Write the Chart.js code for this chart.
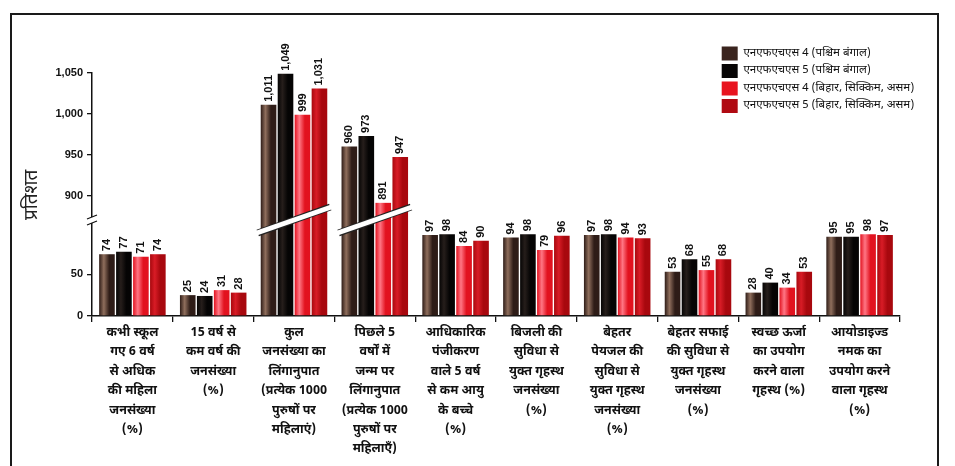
<!DOCTYPE html>
<html>
<head>
<meta charset="utf-8">
<script src="https://cdn.jsdelivr.net/npm/chart.js@4.4.0/dist/chart.umd.min.js"></script>
<style>
html, body { margin: 0; padding: 0; background: #fff; }
#wrap { position: relative; width: 955px; height: 466px; overflow: hidden; }
#frame { position: absolute; left: 10px; top: 13px; width: 925px; height: 470px; border: 2px solid #1a1a1a; border-bottom: none; }
canvas { position: absolute; left: 0; top: 0; }
</style>
</head>
<body>
<div id="wrap"><div id="frame"></div><canvas id="chart" width="955" height="466"></canvas></div>
<script>
const HINDI = '"Noto Sans Devanagari", "Noto Sans", "Lohit Devanagari", sans-serif';
const NUM = '"Liberation Sans", Arial, sans-serif';

const categories = [
  ['कभी स्कूल', 'गए 6 वर्ष', 'से अधिक', 'की महिला', 'जनसंख्या', '(%)'],
  ['15 वर्ष से', 'कम वर्ष की', 'जनसंख्या', '(%)'],
  ['कुल', 'जनसंख्या का', 'लिंगानुपात', '(प्रत्येक 1000', 'पुरुषों पर', 'महिलाएं)'],
  ['पिछले 5', 'वर्षों में', 'जन्म पर', 'लिंगानुपात', '(प्रत्येक 1000', 'पुरुषों पर', 'महिलाएँ)'],
  ['आधिकारिक', 'पंजीकरण', 'वाले 5 वर्ष', 'से कम आयु', 'के बच्चे', '(%)'],
  ['बिजली की', 'सुविधा से', 'युक्त गृहस्थ', 'जनसंख्या', '(%)'],
  ['बेहतर', 'पेयजल की', 'सुविधा से', 'युक्त गृहस्थ', 'जनसंख्या', '(%)'],
  ['बेहतर सफाई', 'की सुविधा से', 'युक्त गृहस्थ', 'जनसंख्या', '(%)'],
  ['स्वच्छ ऊर्जा', 'का उपयोग', 'करने वाला', 'गृहस्थ (%)'],
  ['आयोडाइज्ड', 'नमक का', 'उपयोग करने', 'वाला गृहस्थ', '(%)']
];

const seriesNames = [
  'एनएफएचएस 4 (पश्चिम बंगाल)',
  'एनएफएचएस 5 (पश्चिम बंगाल)',
  'एनएफएचएस 4 (बिहार, सिक्किम, असम)',
  'एनएफएचएस 5 (बिहार, सिक्किम, असम)'
];

const nfhs4WestBengal = [74, 25, 1011, 960, 97, 94, 97, 53, 28, 95];
const nfhs5WestBengal = [77, 24, 1049, 973, 98, 98, 98, 68, 40, 95];
const nfhs4Others = [71, 31, 999, 891, 84, 79, 94, 55, 34, 98];
const nfhs5Others = [74, 28, 1031, 947, 90, 96, 93, 68, 53, 97];

const lowerTicks = [0, 50];
const upperTicks = [900, 950, 1000, 1050];
const lowerMax = 115;
const upperMin = 870;
const upperMax = 1050;

const allSeries = [nfhs4WestBengal, nfhs5WestBengal, nfhs4Others, nfhs5Others];
const flatColors = ['#3a241e', '#070505', '#e8141f', '#b00a12'];
const shades = [
  ['#2e1c17', '#8f6e5c'],
  ['#050404', '#261e1b'],
  ['#e2121f', '#ff7684'],
  ['#a8080e', '#d81c26']
];

const datasets = [];
allSeries.forEach((vals, k) => {
  datasets.push({
    label: seriesNames[k],
    data: vals.map(v => Math.min(v, lowerMax)),
    full: vals,
    part: 'low',
    series: k,
    yAxisID: 'yLow',
    stack: 's' + k,
    backgroundColor: flatColors[k]
  });
});
allSeries.forEach((vals, k) => {
  datasets.push({
    label: seriesNames[k],
    data: vals.map(v => v > lowerMax ? v : null),
    full: vals,
    part: 'up',
    series: k,
    yAxisID: 'yUp',
    stack: 's' + k,
    base: upperMin,
    backgroundColor: flatColors[k]
  });
});

// cylinder-like shading on each bar
const barShading = {
  id: 'barShading',
  beforeDatasetsDraw(chart) {
    const ctx = chart.ctx;
    chart.data.datasets.forEach((ds, i) => {
      chart.getDatasetMeta(i).data.forEach(bar => {
        const l = bar.x - bar.width / 2;
        const g = ctx.createLinearGradient(l, 0, l + bar.width, 0);
        const [d, lt] = shades[ds.series];
        g.addColorStop(0, d);
        g.addColorStop(0.3, lt);
        g.addColorStop(0.65, d);
        g.addColorStop(1, d);
        bar.options = Object.assign({}, bar.options, { backgroundColor: g });
      });
    });
  }
};

// white slashes across the broken bars, break marks on the axis, value labels
const breakAndLabels = {
  id: 'breakAndLabels',
  afterDatasetsDraw(chart) {
    const ctx = chart.ctx;
    const B = chart.scales.yLow.top;
    const axisX = chart.scales.yLow.right;
    ctx.save();
    categories.forEach((c, j) => {
      if (allSeries.every(s => s[j] <= lowerMax)) return;
      const first = chart.getDatasetMeta(0).data[j];
      const last = chart.getDatasetMeta(3).data[j];
      const xl = first.x - first.width / 2 - 3;
      const xr = last.x + last.width / 2 + 3;
      ctx.lineCap = 'butt';
      ctx.strokeStyle = '#222';
      ctx.lineWidth = 7;
      ctx.beginPath(); ctx.moveTo(xl, B + 13); ctx.lineTo(xr, B - 13); ctx.stroke();
      ctx.strokeStyle = '#fff';
      ctx.lineWidth = 5;
      ctx.beginPath(); ctx.moveTo(xl - 1, B + 13); ctx.lineTo(xr + 1, B - 13); ctx.stroke();
    });
    // axis break
    ctx.fillStyle = '#fff';
    ctx.fillRect(axisX - 4, B - 3, 8, 6);
    ctx.strokeStyle = '#111';
    ctx.lineWidth = 1.3;
    ctx.beginPath();
    ctx.moveTo(axisX - 5, B - 1); ctx.lineTo(axisX + 5, B - 5);
    ctx.moveTo(axisX - 5, B + 5); ctx.lineTo(axisX + 5, B + 1);
    ctx.stroke();

    ctx.font = 'bold 11px ' + NUM;
    ctx.fillStyle = '#111';
    ctx.textAlign = 'left';
    ctx.textBaseline = 'middle';
    chart.data.datasets.forEach((ds, i) => {
      chart.getDatasetMeta(i).data.forEach((bar, j) => {
        const v = ds.full[j];
        if (ds.part === 'low' && v > lowerMax) return;
        if (ds.part === 'up' && ds.data[j] === null) return;
        ctx.save();
        ctx.translate(bar.x, bar.y - 3);
        ctx.rotate(-Math.PI / 2);
        ctx.fillText(v.toLocaleString('en-US'), 0, 0);
        ctx.restore();
      });
    });
    ctx.restore();
  }
};

const legendPlace = {
  id: 'legendPlace',
  afterLayout(chart) {
    const lg = chart.legend;
    const a = chart.chartArea;
    lg.left = a.left + (a.right - a.left) * 0.775;
    lg.right = lg.left + lg.width;
    lg.top = a.top - 30;
    lg.bottom = lg.top + lg.height;
  }
};

const setTicks = list => scale => { scale.ticks = list.map(v => ({ value: v })); };

new Chart(document.getElementById('chart').getContext('2d'), {
  type: 'bar',
  data: { labels: categories, datasets: datasets },
  options: {
    responsive: false,
    animation: false,
    categoryPercentage: 0.84,
    barPercentage: 0.92,
    layout: { padding: { left: 0, right: 55, top: 73, bottom: 0 } },
    scales: {
      x: {
        grid: { display: true, drawOnChartArea: false, tickLength: 6, tickColor: '#111', lineWidth: 1.3 },
        border: { color: '#111', width: 1.5 },
        ticks: { autoSkip: false, maxRotation: 0, padding: 2, color: '#111',
          font: { family: HINDI, size: 12.5, weight: 'bold', lineHeight: 1.55 } },
        afterFit: s => { s.height = 150; }
      },
      yLow: {
        type: 'linear', position: 'left', stack: 'v', stackWeight: 96,
        min: 0, max: lowerMax, stacked: false,
        afterBuildTicks: setTicks(lowerTicks),
        grid: { drawOnChartArea: false, tickLength: 5, tickColor: '#111', lineWidth: 1.3 },
        border: { color: '#111', width: 1.5 },
        ticks: { color: '#111', padding: 4, font: { family: NUM, size: 11, weight: 'bold' } },
        afterFit: s => { s.width = 92; }
      },
      yUp: {
        type: 'linear', position: 'left', stack: 'v', stackWeight: 147,
        min: upperMin, max: upperMax, stacked: false,
        afterBuildTicks: setTicks(upperTicks),
        grid: { drawOnChartArea: false, tickLength: 5, tickColor: '#111', lineWidth: 1.3 },
        border: { color: '#111', width: 1.5 },
        ticks: { color: '#111', padding: 4, font: { family: NUM, size: 11, weight: 'bold' } },
        title: { display: true, text: 'प्रतिशत', align: 'start', color: '#222',
          padding: { top: 22, bottom: 0 }, font: { family: HINDI, size: 19 } },
        afterFit: s => { s.width = 92; }
      }
    },
    plugins: {
      tooltip: { enabled: false },
      legend: {
        position: 'chartArea',
        align: 'start',
        labels: {
          filter: item => item.datasetIndex < 4,
          boxWidth: 16, boxHeight: 14, padding: 3.5, color: '#111',
          font: { family: HINDI, size: 11.5 }
        }
      }
    }
  },
  plugins: [barShading, breakAndLabels, legendPlace]
});
</script>
</body>
</html>
